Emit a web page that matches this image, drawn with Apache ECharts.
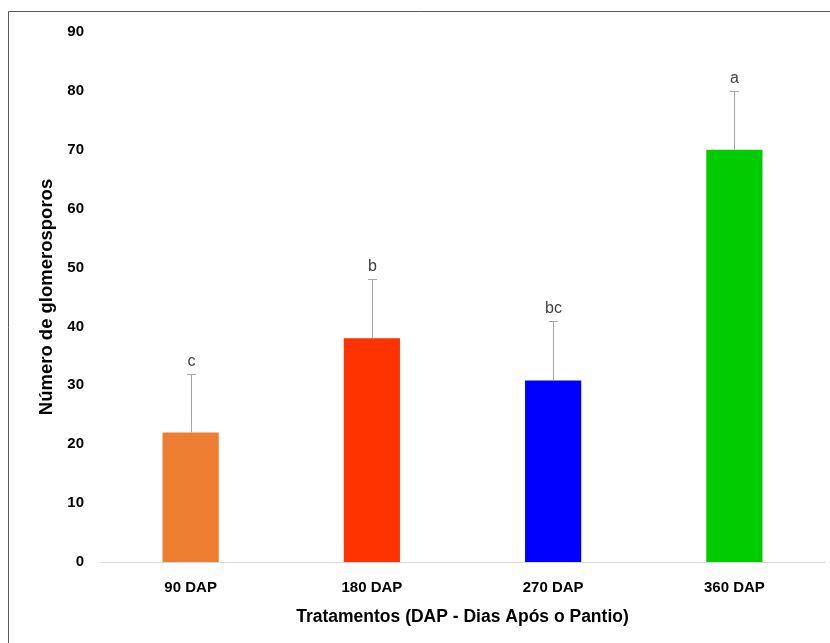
<!DOCTYPE html>
<html>
<head>
<meta charset="utf-8">
<script src="https://cdn.jsdelivr.net/npm/echarts@6/dist/echarts.min.js"></script>
<style>
  html, body { margin: 0; padding: 0; background: #ffffff; }
  #chart { width: 830px; height: 643px; }
</style>
</head>
<body>
<div id="chart"></div>
<script>
// Glomerospore counts by sampling time (days after planting)
var categories = ['90 DAP', '180 DAP', '270 DAP', '360 DAP'];
var means = [22, 38, 30.8, 70];
var upperError = [10, 10, 10.2, 10];
var letters = ['c', 'b', 'bc', 'a'];
var barColors = ['#ED7D31', '#FF3300', '#0000FF', '#00CC00'];
var yTicks = { min: 0, max: 90, interval: 10 };

var FONT = '"Liberation Sans", Arial, sans-serif';

var chart = echarts.init(document.getElementById('chart'), null, { renderer: 'canvas' });

var errorData = categories.map(function (c, i) {
  return [i, means[i], means[i] + upperError[i], letters[i]];
});

var option = {
  backgroundColor: '#ffffff',
  animation: false,
  graphic: [{
    type: 'rect',
    shape: { x: 8.5, y: 11.5, width: 840, height: 650 },
    style: { fill: 'none', stroke: '#595959', lineWidth: 1 },
    silent: true
  }],
  grid: { left: 100, right: 5, top: 32, bottom: 81 },
  xAxis: {
    type: 'category',
    data: categories,
    axisLine: { show: true, lineStyle: { color: '#d9d9d9', width: 1 } },
    axisTick: { show: false },
    axisLabel: { color: '#000000', fontFamily: FONT, fontWeight: 'bold', fontSize: 15, margin: 18 },
    name: 'Tratamentos (DAP - Dias Após o Pantio)',
    nameLocation: 'middle',
    nameGap: 46,
    nameTextStyle: { color: '#000000', fontFamily: FONT, fontWeight: 'bold', fontSize: 17.5 }
  },
  yAxis: {
    type: 'value',
    min: yTicks.min,
    max: yTicks.max,
    interval: yTicks.interval,
    axisLine: { show: false },
    axisTick: { show: false },
    splitLine: { show: false },
    axisLabel: { color: '#000000', fontFamily: FONT, fontWeight: 'bold', fontSize: 15, margin: 16 },
    name: 'Número de glomerosporos',
    nameLocation: 'middle',
    nameGap: 44,
    nameTextStyle: { color: '#000000', fontFamily: FONT, fontWeight: 'bold', fontSize: 18.5 }
  },
  series: [
    {
      type: 'bar',
      barWidth: '31%',
      data: means.map(function (v, i) {
        return { value: v, itemStyle: { color: barColors[i] } };
      })
    },
    {
      type: 'custom',
      data: errorData,
      z: 5,
      renderItem: function (params, api) {
        var base = api.coord([api.value(0), api.value(1)]);
        var top = api.coord([api.value(0), api.value(2)]);
        var x = Math.round(base[0]) + 0.5;
        var yt = Math.round(top[1]) + 0.5;
        var cap = 4.5;
        return {
          type: 'group',
          children: [
            { type: 'line', shape: { x1: x, y1: base[1], x2: x, y2: yt },
              style: { stroke: '#a6a6a6', lineWidth: 1 } },
            { type: 'line', shape: { x1: x - cap, y1: yt, x2: x + cap, y2: yt },
              style: { stroke: '#a6a6a6', lineWidth: 1 } },
            { type: 'text', x: x, y: yt - 13,
              style: { text: letters[params.dataIndex], fill: '#404040', font: '16px ' + FONT,
                       textAlign: 'center', textVerticalAlign: 'middle' } }
          ]
        };
      }
    }
  ]
};

chart.setOption(option);
</script>
</body>
</html>
